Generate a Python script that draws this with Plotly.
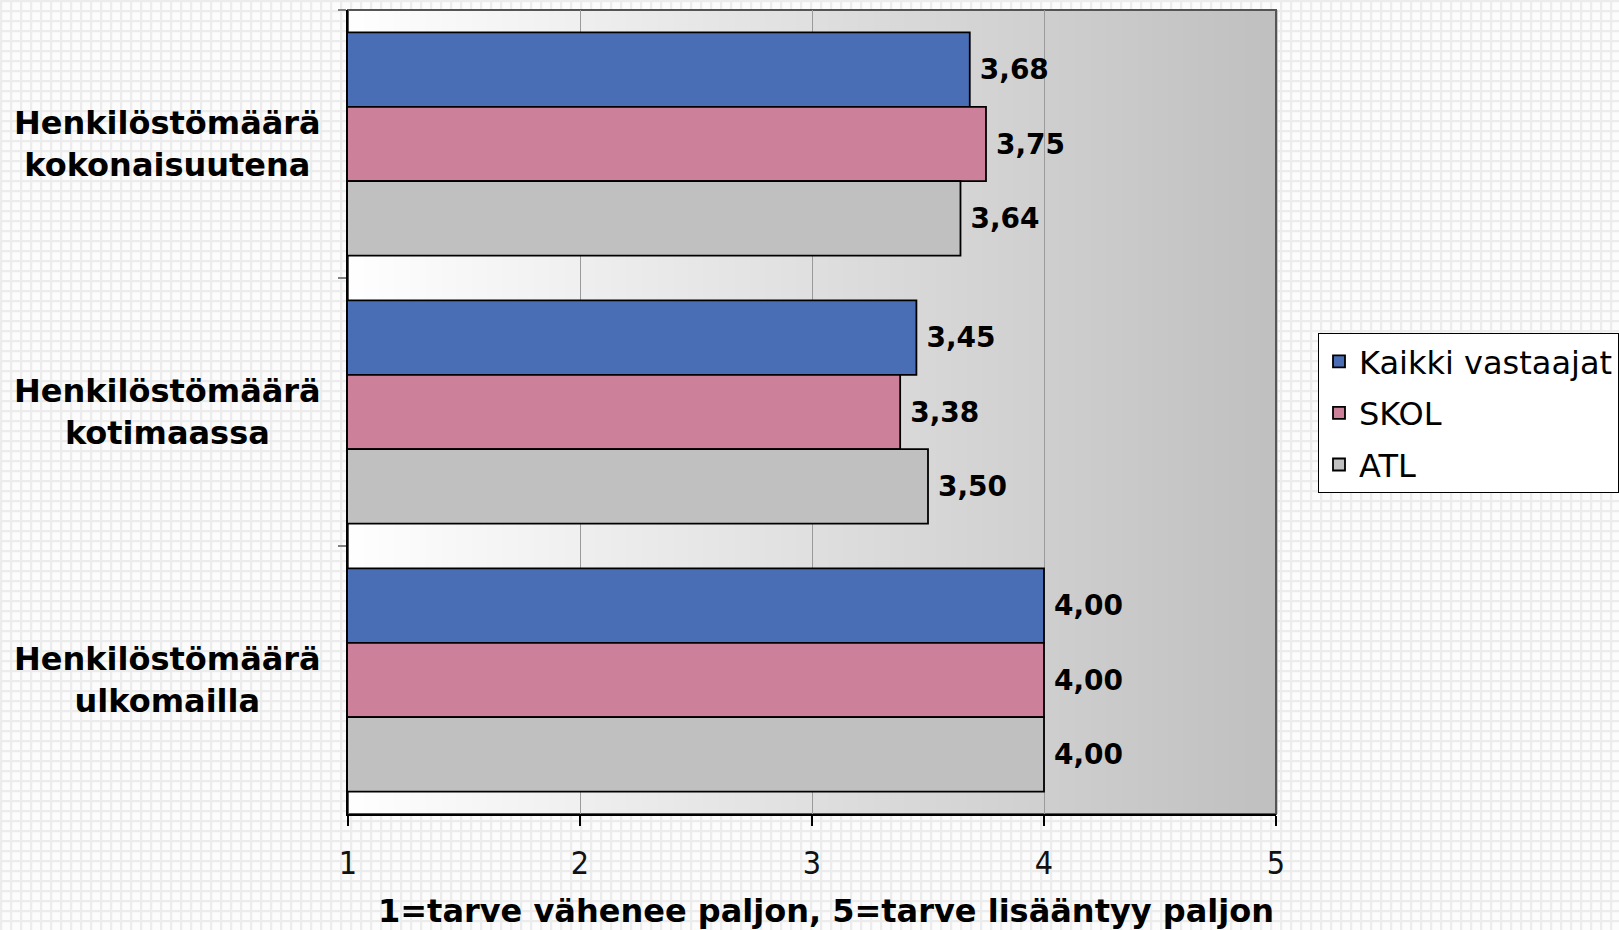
import base64
import plotly.graph_objects as go

# ---- data ----
categories = ["Henkilöstömäärä<br>kokonaisuutena",
              "Henkilöstömäärä<br>kotimaassa",
              "Henkilöstömäärä<br>ulkomailla"]
series_names = ["Kaikki vastaajat", "SKOL", "ATL"]
kaikki = [3.68, 3.45, 4.00]
skol = [3.75, 3.38, 4.00]
atl = [3.64, 3.50, 4.00]
x_ticks = [1, 2, 3, 4, 5]
x_title = "1=tarve vähenee paljon, 5=tarve lisääntyy paljon"

colors = ["#4A6EB6", "#CC8099", "#C0C0C0"]
series_values = [kaikki, skol, atl]

W, H = 1619, 930
ML, MR, MT, MB = 348, 343, 10, 116
PW, PH = W - ML - MR, H - MT - MB

fig = go.Figure()
for name, vals, col in zip(series_names, series_values, colors):
    fig.add_trace(go.Bar(
        y=categories, x=vals, name=name, orientation="h",
        marker=dict(color=col, line=dict(color="#000000", width=1.8)),
        texttemplate="\u2005%{x:.2f}", textposition="outside",
        textfont=dict(family="DejaVu Sans", size=28, color="#000000", weight="bold"),
        cliponaxis=False, legendgroup=name,
    ))

# background page grid pattern
svg = f'''<svg xmlns="http://www.w3.org/2000/svg" width="{W}" height="{H}">
<defs><pattern id="p" width="10" height="10" patternUnits="userSpaceOnUse">
<rect width="10" height="10" fill="#fcfcfc"/>
<path d="M0,1H10M1,0V10" stroke="#ececec" stroke-width="2.5"/>
</pattern></defs>
<rect width="{W}" height="{H}" fill="url(#p)"/></svg>'''
uri = "data:image/svg+xml;base64," + base64.b64encode(svg.encode()).decode()

shapes = []
# horizontal gradient plot-area background (white -> gray), stepped
n = 60
for i in range(n):
    t = (i + 0.5) / n
    v = int(round(255 - (255 - 191) * t))
    c = f"rgb({v},{v},{v})"
    shapes.append(dict(type="rect", xref="paper", yref="paper",
                       x0=i / n, x1=(i + 1) / n + 0.002, y0=0, y1=1,
                       fillcolor=c, line=dict(width=0), layer="below"))
# plot area border (top/right gray)
shapes.append(dict(type="rect", xref="paper", yref="paper", x0=0, x1=1, y0=0, y1=1,
                   line=dict(color="#555555", width=2), fillcolor="rgba(0,0,0,0)", layer="below"))

annotations = []
for cat in categories:
    annotations.append(dict(
        text=cat, xref="paper", yref="y", x=-0.195, y=cat,
        xanchor="center", yanchor="middle", showarrow=False, align="center",
        font=dict(family="DejaVu Sans", size=32, color="#000000", weight="bold"),
    ))
annotations.append(dict(
    text=x_title, xref="paper", yref="paper", x=1.0, y=-(911 - 814) / PH,
    xanchor="right", yanchor="middle", showarrow=False,
    font=dict(family="DejaVu Sans", size=32, color="#000000", weight="bold"),
))

fig.update_layout(
    width=W, height=H,
    margin=dict(l=ML, r=MR, t=MT, b=MB, autoexpand=False),
    barmode="group", bargap=0.167, bargroupgap=0,
    separators=", ",
    paper_bgcolor="#ffffff", plot_bgcolor="rgba(0,0,0,0)",
    showlegend=True,
    legend=dict(
        x=(1318 - ML) / PW, y=(814 - 333) / PH, xanchor="left", yanchor="top",
        bgcolor="#ffffff", bordercolor="#000000", borderwidth=1,
        font=dict(family="DejaVu Sans", size=32, color="#000000"),
        traceorder="grouped", tracegroupgap=7,
    ),
    images=[dict(source=uri, xref="paper", yref="paper",
                 x=-ML / PW, y=1 + MT / PH, sizex=W / PW, sizey=H / PH,
                 xanchor="left", yanchor="top", sizing="stretch", layer="below")],
    shapes=shapes,
    annotations=annotations,
    xaxis=dict(
        range=[1, 5], tickvals=x_ticks, ticktext=[str(v) for v in x_ticks],
        showgrid=True, gridcolor="#9a9a9a", gridwidth=1,
        showline=True, linecolor="#000000", linewidth=2,
        ticks="outside", ticklen=10, tickwidth=1.5, tickcolor="#000000",
        ticklabelstandoff=10,
        tickfont=dict(family="Liberation Sans Narrow, DejaVu Sans Condensed, Liberation Sans",
                      size=32, color="#111111"),
        zeroline=False,
    ),
    yaxis=dict(
        autorange="reversed", showticklabels=False,
        ticks="outside", tickson="boundaries", ticklen=8, tickwidth=1.5, tickcolor="#808080",
        showline=True, linecolor="#000000", linewidth=2, showgrid=False,
    ),
)

fig.write_html("out.html", config={"displayModeBar": False},
               post_script="document.body.style.margin='0';document.body.style.overflow='hidden';")
